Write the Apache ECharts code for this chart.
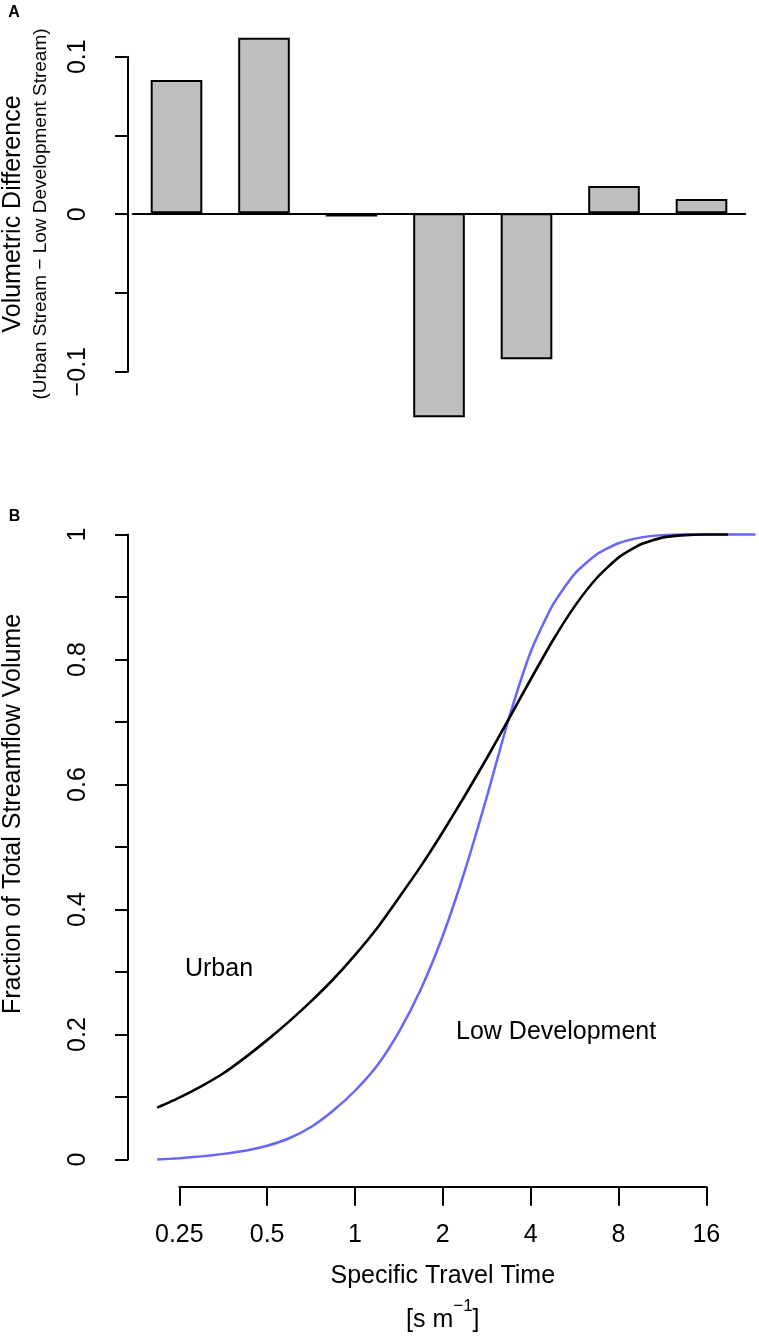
<!DOCTYPE html>
<html>
<head>
<meta charset="utf-8">
<script src="https://cdn.jsdelivr.net/npm/echarts@6/dist/echarts.min.js"></script>
<style>
  html, body { margin: 0; padding: 0; background: #fff; }
  #chart { width: 759px; height: 1337px; }
</style>
</head>
<body>
<div id="chart"></div>
<script>
// Panel A: volumetric difference per travel-time bin
const binLabels = ['Bin 1', 'Bin 2', 'Bin 3', 'Bin 4', 'Bin 5', 'Bin 6', 'Bin 7'];
const volumetricDifference = [0.0846, 0.1115, -0.0021, -0.1295, -0.0927, 0.0173, 0.0091];

// Panel B: cumulative fraction of streamflow volume vs specific travel time [s m^-1]
const travelTime = [0.21, 0.25, 0.297, 0.354, 0.42, 0.5, 0.595, 0.707, 0.841, 1, 1.19, 1.41, 1.68, 2,
  2.38, 2.83, 3.36, 4, 4.76, 5.66, 6.73, 8, 9.51, 11.3, 13.5, 16, 19.0, 23.6];
const urbanFraction = [0.083, 0.099, 0.117, 0.138, 0.163, 0.191, 0.221, 0.253, 0.288, 0.327, 0.370,
  0.418, 0.469, 0.524, 0.582, 0.642, 0.704, 0.768, 0.830, 0.885, 0.930, 0.963, 0.984, 0.995, 0.999, 1.0, 1.0];
const lowDevFraction = [0.000, 0.002, 0.005, 0.009, 0.014, 0.022, 0.034, 0.052, 0.078, 0.110, 0.150,
  0.203, 0.272, 0.358, 0.462, 0.580, 0.704, 0.812, 0.887, 0.937, 0.968, 0.986, 0.995, 0.999, 1.0, 1.0, 1.0, 1.0];
const travelTimeTicks = [0.25, 0.5, 1, 2, 4, 8, 16];
// plotted range of travel time (wider than the labelled axis)
const travelTimeRange = [0.203, 24.25];

// text annotations placed in data coordinates [time, fraction, text]
const curveLabels = [[0.342, 0.305, 'Urban'], [4.89, 0.2045, 'Low Development']];

const FONT = "'Liberation Sans', Arial, Helvetica, sans-serif";
const axisStyle = { color: '#000', width: 2 };

// x axis of panel B is log2 scaled
const toLog2 = t => Math.log2(t);

// panel B geometry: one log2 unit = pxPerDoubling pixels, ticks start at tickLeft
const tickLeft = 179.3;
const pxPerDoubling = 87.83;
const dataLeft = tickLeft - (toLog2(travelTimeTicks[0]) - toLog2(travelTimeRange[0])) * pxPerDoubling;
const dataWidth = (toLog2(travelTimeRange[1]) - toLog2(travelTimeRange[0])) * pxPerDoubling;
const tickWidth = (toLog2(travelTimeTicks[travelTimeTicks.length - 1]) - toLog2(travelTimeTicks[0])) * pxPerDoubling;

const chart = echarts.init(document.getElementById('chart'));

const option = {
  animation: false,
  backgroundColor: '#fff',
  textStyle: { fontFamily: FONT, color: '#000' },
  grid: [
    { left: 132.75, top: 24.3, width: 612.5, height: 409.5 },
    { left: 128, top: 56.7, width: 10, height: 315 },
    { left: dataLeft, top: 534.5, width: dataWidth, height: 625 },
    { left: tickLeft, top: 534.5, width: tickWidth, height: 625 }
  ],
  xAxis: [
    {
      type: 'category', gridIndex: 0, data: binLabels,
      axisLine: { onZero: true, lineStyle: { color: '#000', width: 2 } },
      axisTick: { show: false }, axisLabel: { show: false }, splitLine: { show: false }
    },
    { type: 'value', gridIndex: 1, show: false },
    {
      type: 'value', gridIndex: 2, show: false,
      min: toLog2(travelTimeRange[0]), max: toLog2(travelTimeRange[1])
    },
    {
      type: 'value', gridIndex: 3,
      min: toLog2(travelTimeTicks[0]),
      max: toLog2(travelTimeTicks[travelTimeTicks.length - 1]),
      interval: 1,
      offset: 27.2,
      axisLine: { onZero: false, lineStyle: axisStyle },
      axisTick: { length: 19, lineStyle: axisStyle },
      axisLabel: {
        fontSize: 25, color: '#000', margin: 36, fontFamily: FONT,
        formatter: v => String(Math.pow(2, Math.round(v)))
      },
      splitLine: { show: false },
      name: '{t|Specific Travel Time}\n{u|[s m}{sup|\u22121}{u|]}',
      nameLocation: 'middle', nameGap: 67.3,
      nameTextStyle: {
        rich: {
          t: { fontSize: 25, lineHeight: 44, fontFamily: FONT, color: '#000' },
          u: { fontSize: 25, lineHeight: 44, fontFamily: FONT, color: '#000' },
          sup: { fontSize: 17, lineHeight: 30, verticalAlign: 'top', fontFamily: FONT, color: '#000' }
        }
      }
    }
  ],
  yAxis: [
    { type: 'value', gridIndex: 0, min: -0.14, max: 0.12, show: false },
    {
      type: 'value', gridIndex: 1, min: -0.1, max: 0.1, interval: 0.05,
      axisLine: { show: true, onZero: false, lineStyle: axisStyle },
      axisTick: { show: true, length: 13, lineStyle: axisStyle },
      axisLabel: {
        rotate: 90, fontSize: 25, color: '#000', margin: 37, fontFamily: FONT,
        formatter: v => {
          const k = Math.round(v * 100);
          if (k % 10 !== 0) return '';
          return k === 0 ? '0' : (k < 0 ? '\u2212' : '') + (Math.abs(k) / 100).toString();
        }
      },
      splitLine: { show: false }
    },
    {
      type: 'value', gridIndex: 2, min: 0, max: 1, interval: 0.1, offset: dataLeft - 128,
      axisLine: { show: true, onZero: false, lineStyle: axisStyle },
      axisTick: { show: true, length: 13, lineStyle: axisStyle },
      axisLabel: {
        rotate: 90, fontSize: 25, color: '#000', margin: 37, fontFamily: FONT,
        formatter: v => {
          const k = Math.round(v * 10);
          return k % 2 === 0 ? String(k / 10) : '';
        }
      },
      splitLine: { show: false }
    },
    { type: 'value', gridIndex: 3, min: 0, max: 1, show: false }
  ],
  series: [
    {
      name: 'Volumetric Difference', type: 'bar',
      xAxisIndex: 0, yAxisIndex: 0,
      data: volumetricDifference,
      barCategoryGap: '41%',
      itemStyle: { color: '#BEBEBE', borderColor: '#000', borderWidth: 2 }
    },
    {
      name: 'Low Development', type: 'line',
      xAxisIndex: 2, yAxisIndex: 2, clip: false,
      data: lowDevFraction.map((v, i) => [toLog2(travelTime[i]), v]),
      showSymbol: false, smooth: 0.2,
      lineStyle: { color: '#6666FF', width: 2.5, join: 'round' }
    },
    {
      name: 'Urban', type: 'line',
      xAxisIndex: 2, yAxisIndex: 2, clip: false,
      data: urbanFraction.map((v, i) => [toLog2(travelTime[i]), v]),
      showSymbol: false, smooth: 0.2,
      lineStyle: { color: '#000', width: 2.6, join: 'round' }
    }
  ]
};

chart.setOption(option);

const textStyle = (text, size, weight) => ({
  text: text, fontSize: size, fontWeight: weight || 'normal', fontFamily: FONT,
  fill: '#000', textAlign: 'center', textVerticalAlign: 'middle'
});

const graphics = [
  { type: 'text', x: 14, y: 13, style: textStyle('A', 16, 'bold') },
  { type: 'text', x: 14.5, y: 517, style: textStyle('B', 16, 'bold') },
  { type: 'text', x: 13, y: 214, rotation: Math.PI / 2, style: textStyle('Volumetric Difference', 25) },
  { type: 'text', x: 41, y: 214, rotation: Math.PI / 2, style: textStyle('(Urban Stream \u2212 Low Development Stream)', 19) },
  { type: 'text', x: 13, y: 814, rotation: Math.PI / 2, style: textStyle('Fraction of Total Streamflow Volume', 25) }
];

// curve annotations: convert data coordinates through panel B's axes
curveLabels.forEach(([t, f, label]) => {
  const p = chart.convertToPixel({ xAxisIndex: 2, yAxisIndex: 2 }, [toLog2(t), f]);
  graphics.push({ type: 'text', x: p[0], y: p[1], style: textStyle(label, 25) });
});

chart.setOption({ graphic: graphics });

window.addEventListener('resize', () => {
  chart.resize();
});
</script>
</body>
</html>
